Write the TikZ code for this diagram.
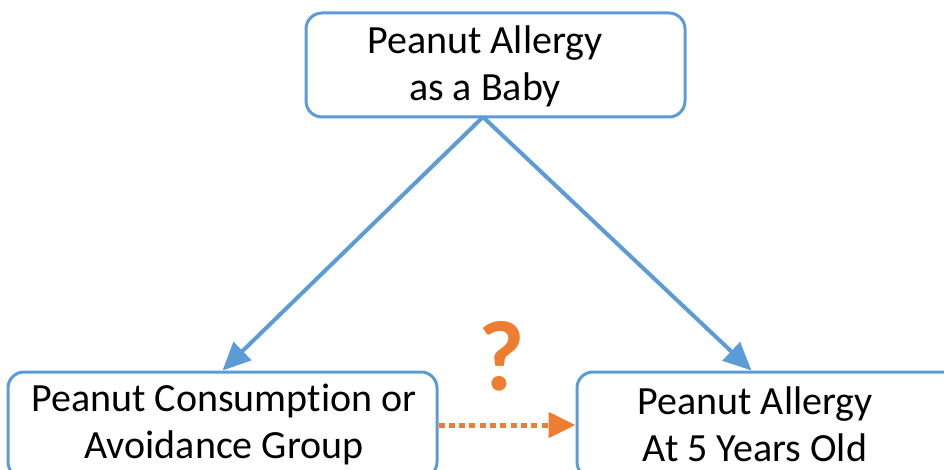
\documentclass[tikz,border=0pt]{standalone}
\usepackage{fontspec}
\setmainfont[Ligatures=NoCommon]{Carlito}
\usetikzlibrary{arrows.meta,calc}
\usepackage{xcolor}
\definecolor{boxblue}{rgb}{0.36,0.61,0.84}
\definecolor{askorange}{rgb}{0.93,0.49,0.19}

\begin{document}
\begin{tikzpicture}[x=1pt,y=1pt,
    causebox/.style={draw=boxblue,line width=3pt,rounded corners=16pt,fill=white},
    boxtext/.style={align=center,font=\fontsize{40}{47}\selectfont},
    causearrow/.style={draw=boxblue,line width=4pt,-{Triangle[length=28pt,width=25pt]}}]

    % Page is 944 x 470, y goes down.
    \useasboundingbox (0,0) rectangle (944,-470);

    % top box
    \node[causebox,minimum width=379pt,minimum height=104pt] (baby) at (495.5,-65) {};
    \node[boxtext] (babytext) at (485,-66) {Peanut Allergy\\as a Baby};
    \coordinate (apex) at (483,-117);

    % bottom left, cut by the page
    \node[causebox,minimum width=429pt,minimum height=106pt] (group) at (222.5,-425) {};
    \node[boxtext] (grouptext) at (224,-424) {Peanut Consumption or\\Avoidance Group};

    % bottom right, cut by the page
    \node[causebox,minimum width=383pt,minimum height=106pt] (later) at (768.5,-425) {};
    \node[boxtext] (latertext) at (755,-424) {Peanut Allergy\\At 5 Years Old};

    % arrows
    \draw[causearrow] (apex) -- (group.north);
    \draw[causearrow] (apex) -- ($(later.north west)+(176,0)$);
    \draw[draw=askorange,line width=5pt,dash pattern=on 6pt off 4.3pt,
        -{Triangle[length=27pt,width=25pt]}] (group.east) -- (later.west);

    % ?
    \node[anchor=base,text=askorange,font=\fontsize{100}{100}\selectfont\bfseries] (ask) at (502,-390) {?};

\end{tikzpicture}
\end{document}
